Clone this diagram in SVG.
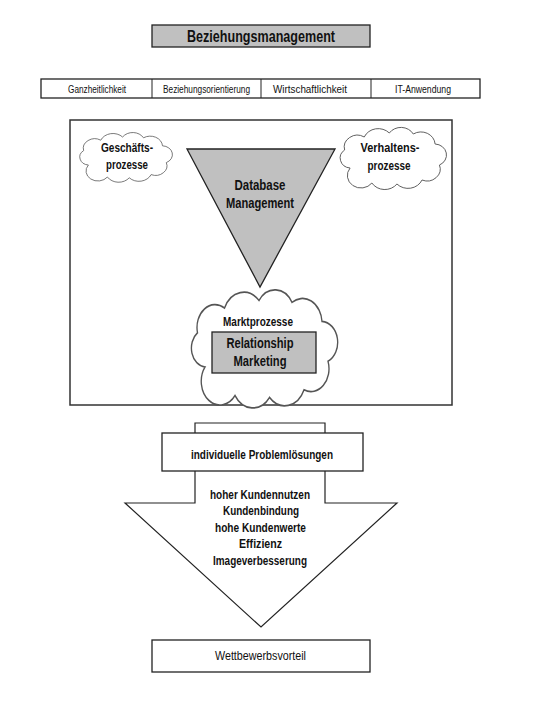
<svg xmlns="http://www.w3.org/2000/svg" width="540" height="720" viewBox="0 0 540 720">
<defs>
<style>
text{font-family:"Liberation Sans",Arial,sans-serif;fill:#111;text-anchor:middle;dominant-baseline:central}
.b{font-weight:bold}
.box{fill:#fff;stroke:#222;stroke-width:1.3}
.gray{fill:#c0c0c0;stroke:#222;stroke-width:1.3}
.cloud{fill:#fff;stroke:#555;stroke-width:0.9}
</style>
<path id="cl" d="M12,40 A10,10 0 0 1 7,22 A12,12 0 0 1 25,9 A14,14 0 0 1 48,5 A13,13 0 0 1 70,6 A13,13 0 0 1 90,16 A11,11 0 0 1 94,37 A12,12 0 0 1 78,52 A14,14 0 0 1 55,56 A14,14 0 0 1 32,55 A11,11 0 0 1 12,40 Z"/>
</defs>
<rect width="540" height="720" fill="#fff"/>

<g id="title">
<rect class="gray" x="152" y="25" width="218" height="22"/>
<text class="b" x="261" y="36" font-size="17" textLength="148" lengthAdjust="spacingAndGlyphs">Beziehungsmanagement</text>
</g>

<g id="principles">
<rect class="box" x="41" y="79" width="439" height="19"/>
<line x1="152" y1="79" x2="152" y2="98" stroke="#222" stroke-width="1"/>
<line x1="261" y1="79" x2="261" y2="98" stroke="#222" stroke-width="1"/>
<line x1="371" y1="79" x2="371" y2="98" stroke="#222" stroke-width="1"/>
<text x="97" y="88.5" font-size="11" textLength="58" lengthAdjust="spacingAndGlyphs">Ganzheitlichkeit</text>
<text x="206.5" y="88.5" font-size="11" textLength="87" lengthAdjust="spacingAndGlyphs">Beziehungsorientierung</text>
<text x="310" y="88.5" font-size="11" textLength="74" lengthAdjust="spacingAndGlyphs">Wirtschaftlichkeit</text>
<text x="423" y="88.5" font-size="11" textLength="56" lengthAdjust="spacingAndGlyphs">IT-Anwendung</text>
</g>

<g id="frame">
<rect x="70" y="120" width="382" height="285" fill="#fff" stroke="#333" stroke-width="1.5"/>
</g>

<g id="geschaeftsprozesse">
<use href="#cl" class="cloud" transform="translate(77,133) scale(0.95,0.8)" vector-effect="non-scaling-stroke"/>
<text class="b" x="127" y="148" font-size="12" textLength="52" lengthAdjust="spacingAndGlyphs">Geschäfts-</text>
<text class="b" x="127" y="165" font-size="12" textLength="42" lengthAdjust="spacingAndGlyphs">prozesse</text>
</g>

<g id="verhaltensprozesse">
<use href="#cl" class="cloud" transform="translate(337,128) scale(1.09,1.0)" vector-effect="non-scaling-stroke"/>
<text class="b" x="390" y="148" font-size="12" textLength="59" lengthAdjust="spacingAndGlyphs">Verhaltens-</text>
<text class="b" x="389" y="166" font-size="12" textLength="43" lengthAdjust="spacingAndGlyphs">prozesse</text>
</g>

<g id="database-management">
<path class="gray" d="M187,149 H335 L260,287 Z"/>
<text class="b" x="260" y="185" font-size="14.5" textLength="51" lengthAdjust="spacingAndGlyphs">Database</text>
<text class="b" x="260" y="203" font-size="14.5" textLength="68" lengthAdjust="spacingAndGlyphs">Management</text>
</g>

<g id="marktprozesse">
<use href="#cl" class="cloud" transform="translate(187,291) scale(1.5,1.9)" vector-effect="non-scaling-stroke"/>
<text class="b" x="258" y="322" font-size="12" textLength="70" lengthAdjust="spacingAndGlyphs">Marktprozesse</text>
</g>

<g id="relationship-marketing">
<rect class="gray" x="212" y="332" width="104" height="41"/>
<text class="b" x="260" y="342.5" font-size="14.5" textLength="67" lengthAdjust="spacingAndGlyphs">Relationship</text>
<text class="b" x="260" y="361" font-size="14.5" textLength="53" lengthAdjust="spacingAndGlyphs">Marketing</text>
</g>

<g id="connectors">
<path d="M195,423 H325 V503 H397 L261,627 L125,503 H195 Z" fill="#fff" stroke="#222" stroke-width="1.2"/>
</g>

<g id="nutzen">
<text class="b" x="260" y="494" font-size="13" textLength="100" lengthAdjust="spacingAndGlyphs">hoher Kundennutzen</text>
<text class="b" x="261" y="510.5" font-size="13" textLength="76" lengthAdjust="spacingAndGlyphs">Kundenbindung</text>
<text class="b" x="260.5" y="527" font-size="13" textLength="91" lengthAdjust="spacingAndGlyphs">hohe Kundenwerte</text>
<text class="b" x="260.5" y="543.5" font-size="13" textLength="43" lengthAdjust="spacingAndGlyphs">Effizienz</text>
<text class="b" x="260" y="560" font-size="13" textLength="94" lengthAdjust="spacingAndGlyphs">Imageverbesserung</text>
</g>

<g id="problemloesungen">
<rect class="box" x="162" y="433" width="201" height="38"/>
<text class="b" x="262" y="454" font-size="13" textLength="142" lengthAdjust="spacingAndGlyphs">individuelle Problemlösungen</text>
</g>

<g id="wettbewerbsvorteil">
<rect class="box" x="152" y="640" width="218" height="32"/>
<text x="260.5" y="655.5" font-size="13" textLength="91" lengthAdjust="spacingAndGlyphs">Wettbewerbsvorteil</text>
</g>
</svg>
